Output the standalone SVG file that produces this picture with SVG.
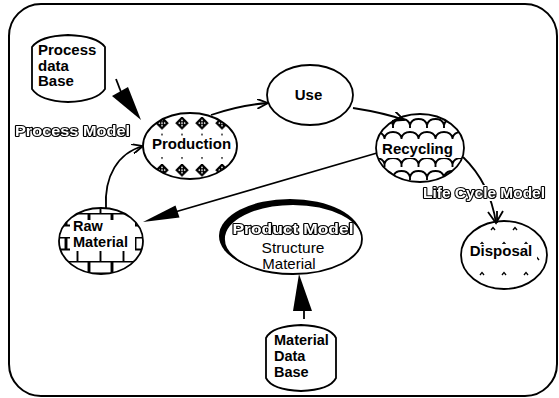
<svg xmlns="http://www.w3.org/2000/svg" width="559" height="398" viewBox="0 0 559 398">
<style>
.frame{fill:#fff;stroke:#000;stroke-width:2}
.node{stroke:#000;stroke-width:1.8}
.lbl{font-family:"Liberation Sans",Arial,sans-serif;font-weight:bold;font-size:15px;fill:#000}
.sm{font-size:14.5px}
.reg{font-family:"Liberation Sans",Arial,sans-serif;font-size:15.5px;fill:#000}
.outl{font-family:"Liberation Sans",Arial,sans-serif;font-weight:bold;font-size:15px;fill:#fff;stroke:#000;stroke-width:2.2;paint-order:stroke;stroke-linejoin:round}
.conn{fill:none;stroke:#000;stroke-width:1.8}
.pat{fill:none;stroke:#000;stroke-width:1.9}
</style>
<defs>
<filter id="gray" x="-5%" y="-20%" width="110%" height="140%"><feColorMatrix type="saturate" values="0"/></filter>
<pattern id="diam" patternUnits="userSpaceOnUse" x="152" y="117" width="20" height="23.5">
<g transform="translate(10,6) rotate(45)">
<rect x="-4.8" y="-4.8" width="9.6" height="9.6" fill="#000"/>
<rect x="-2.6" y="-2.6" width="1.4" height="1.4" fill="#fff"/>
<rect x="1.2" y="-2.6" width="1.4" height="1.4" fill="#fff"/>
<rect x="-0.7" y="-0.7" width="1.4" height="1.4" fill="#fff"/>
<rect x="-2.6" y="1.2" width="1.4" height="1.4" fill="#fff"/>
<rect x="1.2" y="1.2" width="1.4" height="1.4" fill="#fff"/>
</g>
<circle cx="10" cy="17.5" r="0.9" fill="#000"/>
</pattern>
<pattern id="scales" patternUnits="userSpaceOnUse" x="376" y="112" width="17" height="26">
<path class="pat" d="M0,13 C2,5 15,5 17,13 M0,13 V16 M17,13 V16 M-8.5,26 C-6.5,18 6.5,18 8.5,26 M8.5,26 C10.5,18 23.5,18 25.5,26 M8.5,0 V3"/>
</pattern>
<pattern id="brick" patternUnits="userSpaceOnUse" x="66" y="213" width="23" height="24">
<path class="pat" d="M0,0.5 H23 M0,12.5 H23 M0.5,0 V12 M22.5,0 V12 M11.5,12 V24"/>
</pattern>
<pattern id="caret" patternUnits="userSpaceOnUse" x="460" y="220" width="22" height="30">
<path fill="none" stroke="#000" stroke-width="1.4" d="M9,10 L11,7.5 L13,10 M-2,25 L0,22.5 L2,25 M20,25 L22,22.5 L24,25"/>
</pattern>
<clipPath id="cProd"><ellipse cx="190" cy="146" rx="47" ry="33"/></clipPath>
<clipPath id="cRec"><ellipse cx="420" cy="148" rx="44" ry="34"/></clipPath>
<clipPath id="cRaw"><ellipse cx="101" cy="241" rx="42" ry="33"/></clipPath>
<marker id="open" viewBox="0 0 12 10" refX="11" refY="5" markerWidth="12" markerHeight="10" markerUnits="userSpaceOnUse" orient="auto">
<path d="M0,0 L11,5 L0,10" fill="none" stroke="#000" stroke-width="1.8"/>
</marker>
</defs>

<rect class="frame" x="9" y="4" width="548" height="392" rx="32" ry="32"/>

<g id="connectors">
<path class="conn" d="M211,115 Q240,105 268,103" marker-end="url(#open)"/>
<path class="conn" d="M353,108 Q385,113 404,120" marker-end="url(#open)"/>
<path class="conn" d="M106,208 C104,176 118,153 143,146" marker-end="url(#open)"/>
<path class="conn" d="M463,157 Q490,183 496,223"/>
<path class="conn" d="M488,212 L496,223 L503,211 M497,211 V223"/>
<line class="conn" x1="377" y1="153" x2="175" y2="212"/>
<polygon points="143,222 175.5,205.5 179.5,217.5" fill="#000"/>
<line class="conn" x1="116" y1="79" x2="121" y2="92"/>
<polygon points="141,120 112,96 128,87" fill="#000"/>
<polygon points="299,274 293,311 312,311" fill="#000"/>
<line class="conn" x1="304" y1="310" x2="304" y2="319"/>
</g>

<g id="process-db">
<path class="node" fill="#fff" d="M32,47 Q40,36 68,35 Q97,36 105,47 L105,89 Q97,101 68,102 Q40,101 32,89 Z"/>
<text class="lbl" x="38" y="55">Process</text>
<text class="lbl" x="38" y="70.5">data</text>
<text class="lbl" x="38" y="86">Base</text>
</g>

<g id="process-model-label">
<text class="outl" filter="url(#gray)" x="15" y="136" textLength="115" lengthAdjust="spacingAndGlyphs">Process Model</text>
</g>

<g id="production">
<ellipse cx="190" cy="146" rx="47" ry="33" fill="url(#diam)"/>
<rect x="140" y="136" width="102" height="18" fill="#fff" clip-path="url(#cProd)"/>
<ellipse class="node" cx="190" cy="146" rx="47" ry="33" fill="none"/>
<text class="lbl" x="191.5" y="149" text-anchor="middle">Production</text>
</g>

<g id="use">
<ellipse class="node" cx="310" cy="95" rx="43" ry="30" fill="#fff"/>
<text class="lbl" x="308.5" y="100" text-anchor="middle">Use</text>
</g>

<g id="recycling">
<ellipse cx="420" cy="148" rx="44" ry="34" fill="url(#scales)"/>
<rect x="374" y="139" width="92" height="19" fill="#fff" clip-path="url(#cRec)"/>
<ellipse class="node" cx="420" cy="148" rx="44" ry="34" fill="none"/>
<text class="lbl" x="417.5" y="154" text-anchor="middle">Recycling</text>
</g>

<g id="life-cycle-model-label">
<rect x="421" y="185" width="126" height="16" fill="#fff"/>
<text class="outl" filter="url(#gray)" x="423" y="198" textLength="122" lengthAdjust="spacingAndGlyphs">Life Cycle Model</text>
</g>

<g id="raw-material">
<ellipse cx="101" cy="241" rx="42" ry="33" fill="url(#brick)"/>
<rect x="70" y="220" width="65" height="31" fill="#fff" clip-path="url(#cRaw)"/>
<ellipse class="node" cx="101" cy="241" rx="42" ry="33" fill="none"/>
<text class="lbl sm" x="73" y="231">Raw</text>
<text class="lbl sm" x="73" y="247" textLength="55" lengthAdjust="spacingAndGlyphs">Material</text>
</g>

<g id="product-model">
<ellipse cx="290" cy="236" rx="71" ry="37" fill="#000"/>
<ellipse class="node" cx="293" cy="239" rx="69" ry="35" fill="#fff" stroke-width="1.5"/>
<text class="outl" filter="url(#gray)" x="293" y="234" text-anchor="middle" textLength="121" lengthAdjust="spacingAndGlyphs">Product Model</text>
<text class="reg" x="293" y="253" text-anchor="middle">Structure</text>
<text class="reg" x="289" y="269" text-anchor="middle" style="font-size:15px">Material</text>
</g>

<g id="disposal">
<ellipse cx="504" cy="255" rx="43" ry="34" fill="url(#caret)"/>
<rect x="467" y="244" width="70" height="17" fill="#fff"/>
<ellipse class="node" cx="504" cy="255" rx="43" ry="34" fill="none"/>
<text class="lbl" x="501" y="256" text-anchor="middle">Disposal</text>
</g>

<g id="material-db">
<path class="node" fill="#fff" d="M266,338 Q272,326 301,325 Q330,326 336,338 L336,378 Q330,390 301,391 Q272,390 266,378 Z"/>
<text class="lbl sm" x="274" y="345">Material</text>
<text class="lbl sm" x="274" y="361">Data</text>
<text class="lbl sm" x="274" y="377">Base</text>
</g>
</svg>
